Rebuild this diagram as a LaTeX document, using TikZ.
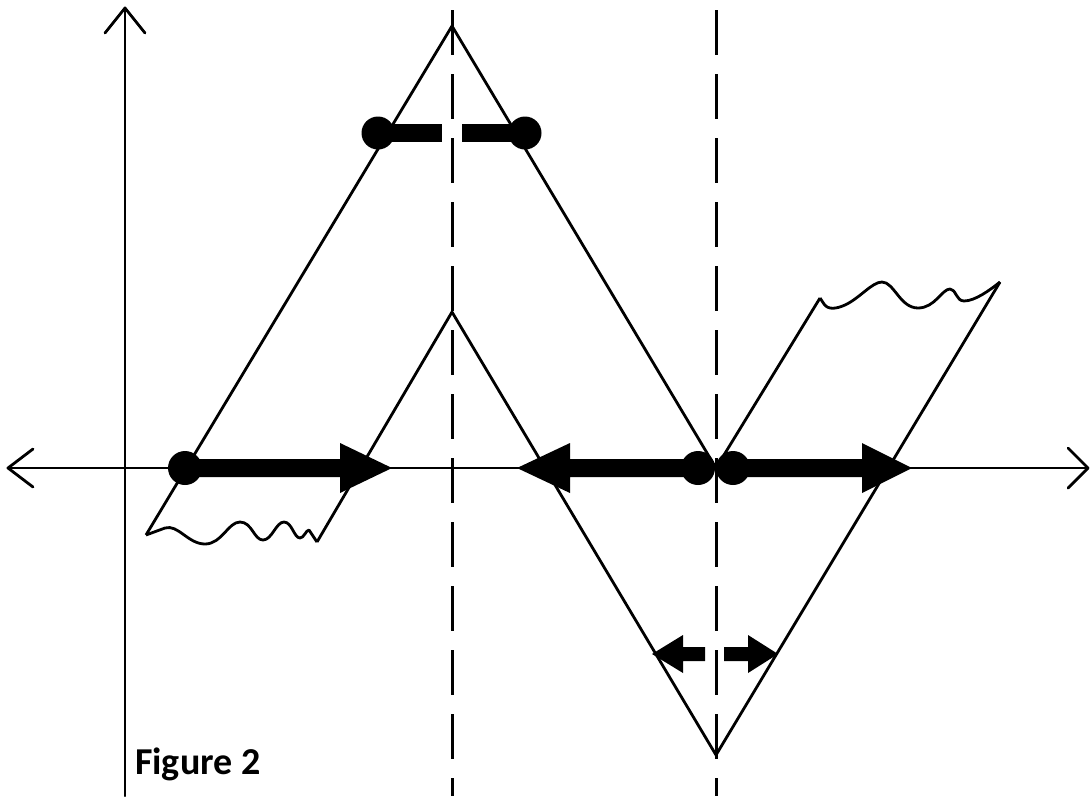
\documentclass[tikz,border=0pt]{standalone}
\usepackage{fontspec}
\newfontfamily\figfont{Carlito}
\begin{document}
\begin{tikzpicture}[x=1pt,y=-1pt,
  thin line/.style={line width=2.8pt,line join=miter,line cap=butt},
  axis line/.style={line width=2.8pt,line join=round,line cap=round},
  dash line/.style={line width=3pt,dash pattern=on 45pt off 19pt},
  fat/.style={fill=black},
  label text/.style={font=\figfont\bfseries\fontsize{38}{44}\selectfont,inner sep=0pt,anchor=base west}]
\useasboundingbox (0,0) rectangle (1091,796);
% key coordinates
\coordinate (bigApex) at (452,26);
\coordinate (smallApex) at (452,312);
\coordinate (bigLeftEnd) at (146,535);
\coordinate (smallLeftEnd) at (317,542);
\coordinate (cross) at (716,468);
\coordinate (vTopL) at (820,298);
\coordinate (vTopR) at (1000,282);
\coordinate (vBottom) at (716,755);
% axes
\draw[axis line] (125,796) -- (125,8);
\draw[axis line] (105,33) -- (125,8) -- (145,33);
\draw[axis line] (8,468) -- (1088,468);
\draw[axis line] (33,449) -- (8,468) -- (33,487);
\draw[axis line] (1068,448) -- (1088,468) -- (1068,488);
% dashed lines
\draw[dash line] (452,10) -- (452,796);
\draw[dash line] (716,10) -- (716,796);
% big triangle and V
\draw[thin line] (bigLeftEnd) -- (bigApex) -- (cross) -- (vTopL);
\draw[thin line] (vTopR) -- (vBottom) -- (smallApex) -- (smallLeftEnd);
% wavy edges
\draw[thin line,line join=round] (bigLeftEnd) -- (165,528) .. controls (178,524) and (188,544) .. (205,544)
  .. controls (222,544) and (228,522) .. (240,522)
  .. controls (252,522) and (254,540) .. (263,540)
  .. controls (272,540) and (276,522) .. (284,522)
  .. controls (292,522) and (294,538) .. (300,538)
  .. controls (304,538) and (306,530) .. (309,530) -- (smallLeftEnd);
\draw[thin line,line join=round] (vTopL) -- (824,304) .. controls (828,310) and (836,309) .. (845,305)
  .. controls (860,298) and (872,282) .. (882,282)
  .. controls (894,282) and (900,308) .. (918,308)
  .. controls (935,308) and (942,289) .. (950,289)
  .. controls (956,289) and (956,301) .. (964,301)
  .. controls (975,301) and (990,290) .. (vTopR);
% top bar with dots
\fill[fat] (378,133) circle (16.5);
\fill[fat] (525,133) circle (16.5);
\fill[fat] (378,124) rectangle (442,142);
\fill[fat] (462,124) rectangle (525,142);
% left fat arrow
\fill[fat] (185,468) circle (17);
\fill[fat] (185,459) -- (340,459) -- (340,443) -- (392,468) -- (340,493) -- (340,477) -- (185,477) -- cycle;
% middle fat arrow (pointing left)
\fill[fat] (698,468) circle (17);
\fill[fat] (698,459) -- (570,459) -- (570,443) -- (517,468) -- (570,493) -- (570,477) -- (698,477) -- cycle;
% right fat arrow
\fill[fat] (733,468) circle (17);
\fill[fat] (733,459) -- (862,459) -- (862,443) -- (912,468) -- (862,493) -- (862,477) -- (733,477) -- cycle;
% small arrows near bottom
\fill[fat] (705,647) -- (683,647) -- (683,635) -- (652,654) -- (683,673) -- (683,661) -- (705,661) -- cycle;
\fill[fat] (724,647) -- (748,647) -- (748,635) -- (778,654) -- (748,673) -- (748,661) -- (724,661) -- cycle;
% label
\node[label text] (fig) at (135,774) {Figure 2};
\end{tikzpicture}
\end{document}
